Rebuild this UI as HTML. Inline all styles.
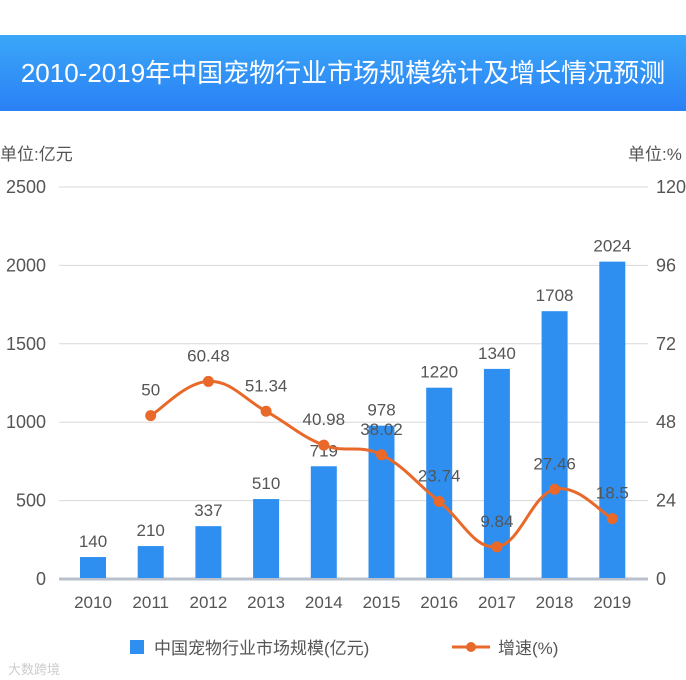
<!DOCTYPE html>
<html><head><meta charset="utf-8"><style>
body{margin:0;width:686px;height:680px;overflow:hidden;background:#fff;font-family:"Liberation Sans","Noto Sans CJK SC",sans-serif;}
#title{position:absolute;left:0;top:35px;width:686px;height:76px;background:linear-gradient(#3aa7f8,#2a80f5);color:#fff;font-size:26px;line-height:76px;text-align:center;white-space:nowrap;}
svg{position:absolute;left:0;top:0}
</style></head><body>
<div id="title">2010-2019年中国宠物行业市场规模统计及增长情况预测</div>
<svg id="c" width="686" height="680"></svg>
<script>
const years=["2010","2011","2012","2013","2014","2015","2016","2017","2018","2019"];
const sizes=[140,210,337,510,719,978,1220,1340,1708,2024];
const growth=[null,50,60.48,51.34,40.98,38.02,23.74,9.84,27.46,18.5];
const growthLabels=["","50","60.48","51.34","40.98","38.02","23.74","9.84","27.46","18.5"];
const leftTicks=[0,500,1000,1500,2000,2500];
const rightTicks=[0,24,48,72,96,120];
const ns="http://www.w3.org/2000/svg",svg=document.getElementById('c');
const y0=579,y1=187,x0=93,dx=57.7;
const yL=v=>y0-(v/2500)*(y0-y1), yR=v=>y0-(v/120)*(y0-y1), xC=i=>x0+i*dx;
function el(t,a,txt){const e=document.createElementNS(ns,t);for(const k in a)e.setAttribute(k,a[k]);if(txt!==undefined)e.textContent=txt;svg.appendChild(e);return e;}
let e;
e=el('text',{x:0,y:160,'font-size':17,fill:'#555'},'单位:亿元');


e=el('text',{x:628,y:160,'font-size':17,fill:'#555'},'单位:%');


leftTicks.forEach((t,i)=>{
 e=el('line',{x1:59,x2:648,y1:yL(t),y2:yL(t),stroke:i==0?'#b8c0cc':'#d8d8d8','stroke-width':i==0?3:1});
 
 
 e=el('text',{x:46,y:yL(t)+6,'font-size':18,fill:'#555','text-anchor':'end'},t);
 
 
});
rightTicks.forEach(t=>{
 e=el('text',{x:656,y:yR(t)+6,'font-size':18,fill:'#555'},t);
 
 
});
sizes.forEach((v,i)=>{
 e=el('rect',{x:xC(i)-13,y:yL(v),width:26,height:y0-1-yL(v),fill:'#2e8ff0'});
 
 
 e=el('text',{x:xC(i),y:yL(v)-10,'font-size':17,fill:'#555','text-anchor':'middle'},v);
 
 
 e=el('text',{x:xC(i),y:608,'font-size':17,fill:'#555','text-anchor':'middle'},years[i]);
 
 
});
const pts=[];growth.forEach((g,i)=>{if(g!==null)pts.push([xC(i),yR(g)]);});
let d='M'+pts[0][0]+','+pts[0][1];
for(let i=0;i<pts.length-1;i++){const p0=pts[Math.max(0,i-1)],p1=pts[i],p2=pts[i+1],p3=pts[Math.min(pts.length-1,i+2)];
 const t=0.2;d+=` C${p1[0]+(p2[0]-p0[0])*t},${p1[1]+(p2[1]-p0[1])*t} ${p2[0]-(p3[0]-p1[0])*t},${p2[1]-(p3[1]-p1[1])*t} ${p2[0]},${p2[1]}`;}
e=el('path',{d:d,fill:'none',stroke:'#e8692a','stroke-width':3});


growth.forEach((g,i)=>{if(g===null)return;
 e=el('circle',{cx:xC(i),cy:yR(g),r:5.5,fill:'#e8692a'});
 
 
 e=el('text',{x:xC(i),y:yR(g)-20,'font-size':17,fill:'#555','text-anchor':'middle'},growthLabels[i]);
 
 
});
e=el('rect',{x:130,y:640,width:14,height:14,fill:'#2e8ff0'});


e=el('text',{x:154,y:654,'font-size':17,fill:'#555'},'中国宠物行业市场规模(亿元)');


e=el('line',{x1:452,x2:490,y1:647,y2:647,stroke:'#e8692a','stroke-width':3});


e=el('circle',{cx:471,cy:647,r:5,fill:'#e8692a'});


e=el('text',{x:498,y:654,'font-size':17,fill:'#555'},'增速(%)');


e=el('text',{x:8,y:674,'font-size':13,fill:'#ccc'},'大数跨境');


</script>
</body></html>
